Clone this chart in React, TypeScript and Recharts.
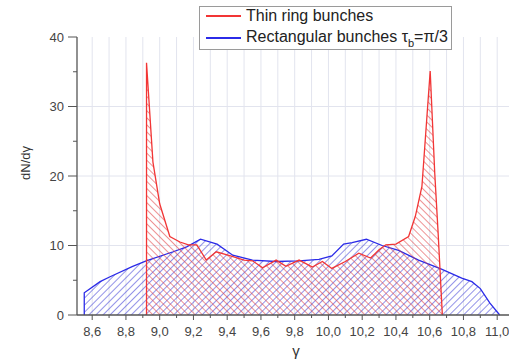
import { AreaChart, Area, XAxis, YAxis, CartesianGrid } from "recharts";

// gamma values and dN/dgamma
const thinGamma = [8.922, 8.922, 8.96, 9.0, 9.06, 9.12, 9.17, 9.22, 9.276, 9.335, 9.42, 9.5, 9.55, 9.61, 9.69, 9.748, 9.826, 9.905, 9.964, 10.02, 10.1, 10.18, 10.25, 10.3, 10.34, 10.4, 10.475, 10.515, 10.554, 10.603, 10.63, 10.65, 10.675];
const thinValues = [0, 36.3, 22, 16, 11.3, 10.5, 10.1, 10.1, 7.9, 9.1, 8.5, 7.9, 7.8, 6.8, 7.9, 7.0, 7.9, 6.9, 7.7, 6.7, 7.7, 8.9, 8.2, 9.4, 10.1, 10.2, 11.3, 14.2, 18.5, 35.1, 20.4, 11.8, 0];

const rectGamma = [8.553, 8.553, 8.647, 8.706, 8.84, 8.92, 9.08, 9.16, 9.242, 9.34, 9.433, 9.55, 9.69, 9.826, 9.944, 10.02, 10.09, 10.14, 10.225, 10.318, 10.416, 10.534, 10.67, 10.79, 10.85, 10.9, 10.957, 11.015];
const rectValues = [0, 3.2, 4.8, 5.5, 7.0, 7.8, 9.1, 9.8, 10.9, 10.2, 8.6, 7.9, 7.7, 7.8, 8.0, 8.5, 10.2, 10.4, 10.9, 10.0, 9.3, 7.9, 6.6, 5.3, 4.8, 3.8, 1.7, 0];

const xTicks = [8.6, 8.7, 8.8, 8.9, 9.0, 9.1, 9.2, 9.3, 9.4, 9.5, 9.6, 9.7, 9.8, 9.9, 10.0, 10.1, 10.2, 10.3, 10.4, 10.5, 10.6, 10.7, 10.8, 10.9, 11.0];
const yTicks = [0, 5, 10, 15, 20, 25, 30, 35, 40];
const yGrid = [10, 20, 30];

const thinData = thinGamma.map((g, i) => ({ g, v: thinValues[i] }));
const rectData = rectGamma.map((g, i) => ({ g, v: rectValues[i] }));

const FONT = "'Liberation Sans', Arial, sans-serif";
const AXIS = "#555";

function XTick({ x, y, payload }: any) {
  const major = Math.round(payload.value * 10) % 2 === 0;
  return (
    <g>
      <line x1={x} x2={x} y1={y} y2={y + (major ? 5 : 3)} stroke={AXIS} strokeWidth={1} />
      {major && (
        <text x={x} y={y + 21} textAnchor="middle" fontSize={13} fill="#444" fontFamily={FONT}>
          {payload.value.toFixed(1).replace(".", ",")}
        </text>
      )}
    </g>
  );
}

function YTick({ x, y, payload }: any) {
  const major = payload.value % 10 === 0;
  return (
    <g>
      <line x1={x - (major ? 9 : 4)} x2={x} y1={y} y2={y} stroke={AXIS} strokeWidth={1} />
      {major && (
        <text x={x - 13} y={y + 4.5} textAnchor="end" fontSize={13} fill="#444" fontFamily={FONT}>
          {payload.value}
        </text>
      )}
    </g>
  );
}

export default function App() {
  return (
    <div style={{ position: "absolute", left: 0, top: 0, width: 509, height: 360, background: "#fff" }}>
      <AreaChart width={509} height={360} margin={{ top: 37, right: 0, bottom: 0, left: 0 }}>
        <defs>
          <pattern id="hatchRed" width="5" height="5" patternUnits="userSpaceOnUse" patternTransform="rotate(-45)">
            <line x1="0" y1="0" x2="0" y2="5" stroke="#e0383c" strokeWidth={1.1} />
          </pattern>
          <pattern id="hatchBlue" width="5" height="5" patternUnits="userSpaceOnUse" patternTransform="rotate(45)">
            <line x1="0" y1="0" x2="0" y2="5" stroke="#3838d4" strokeWidth={1.1} />
          </pattern>
        </defs>
        <CartesianGrid stroke="#e2e4ee" strokeWidth={1} horizontalValues={yGrid} verticalValues={xTicks} />
        <XAxis
          dataKey="g"
          type="number"
          domain={[8.51, 11.07]}
          ticks={xTicks}
          interval={0}
          height={45}
          tickSize={0}
          tickMargin={0}
          tickLine={false}
          tick={<XTick />}
          axisLine={{ stroke: AXIS, strokeWidth: 1.3 }}
          allowDataOverflow
        />
        <YAxis
          type="number"
          domain={[0, 40]}
          ticks={yTicks}
          interval={0}
          width={77}
          tickSize={0}
          tickMargin={0}
          tickLine={false}
          tick={<YTick />}
          axisLine={{ stroke: AXIS, strokeWidth: 1.3 }}
        />
        <Area
          data={rectData}
          dataKey="v"
          type="linear"
          stroke="#2b2be8"
          strokeWidth={1.3}
          fill="url(#hatchBlue)"
          fillOpacity={1}
          isAnimationActive={false}
          dot={false}
          activeDot={false}
        />
        <Area
          data={thinData}
          dataKey="v"
          type="linear"
          stroke="#f23535"
          strokeWidth={1.3}
          fill="url(#hatchRed)"
          fillOpacity={1}
          isAnimationActive={false}
          dot={false}
          activeDot={false}
        />
        <text x={25} y={163} transform="rotate(-90 25 163)" textAnchor="middle" dominantBaseline="central" fontSize={13} fill="#333" fontFamily={FONT}>
          dN/dγ
        </text>
        <text x={296} y={356} textAnchor="middle" fontSize={15} fill="#333" fontFamily={FONT}>
          γ
        </text>
      </AreaChart>
      <div
        style={{
          position: "absolute",
          left: 199,
          top: 6,
          width: 253,
          height: 44,
          border: "1px solid #9a9a9a",
          background: "#fff",
          fontFamily: FONT,
          fontSize: 16,
          color: "#222",
          boxSizing: "border-box",
        }}
      >
        <div style={{ position: "absolute", left: 6, top: 8, width: 35, height: 1.5, background: "#f23535" }} />
        <div style={{ position: "absolute", left: 46, top: 0, whiteSpace: "nowrap", lineHeight: "18px" }}>Thin ring bunches</div>
        <div style={{ position: "absolute", left: 6, top: 30, width: 35, height: 1.5, background: "#2b2be8" }} />
        <div style={{ position: "absolute", left: 46, top: 21, whiteSpace: "nowrap", lineHeight: "18px" }}>
          Rectangular bunches τ<sub style={{ fontSize: 11, verticalAlign: "-5px" }}>b</sub>=π/3
        </div>
      </div>
    </div>
  );
}
